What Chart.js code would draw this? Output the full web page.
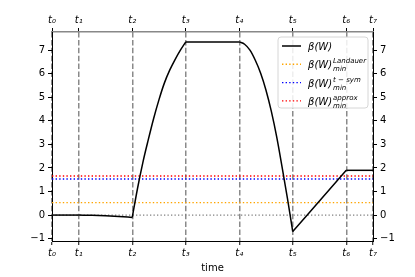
<!DOCTYPE html>
<html>
<head>
<meta charset="utf-8">
<script src="https://cdn.jsdelivr.net/npm/chart.js@4"></script>
<style>
  html, body { margin: 0; padding: 0; background: #fff; }
  #wrap { width: 415px; height: 277px; }
</style>
</head>
<body>
<div id="wrap"><canvas id="chart" width="415" height="277"></canvas></div>
<script>
// time marks
const tickPos = [0, 0.5, 1.5, 2.5, 3.5, 4.5, 5.5, 6];
const tickNames = ['t₀', 't₁', 't₂', 't₃', 't₄', 't₅', 't₆', 't₇'];
const yTicks = [-1, 0, 1, 2, 3, 4, 5, 6, 7];

// beta(W) curve
const time = [0, 0.5, 0.75, 1.0, 1.25, 1.5, 1.6, 1.7, 1.8, 1.9, 2.0, 2.1, 2.2, 2.3, 2.4, 2.5,
              3.5, 3.6, 3.7, 3.8, 3.9, 4.0, 4.1, 4.2, 4.3, 4.4, 4.5, 5.5, 6.0];
const beta = [0, 0, -0.01, -0.03, -0.06, -0.1, 1.15, 2.25, 3.2, 4.1, 4.9, 5.6, 6.15, 6.6, 7.0, 7.35,
              7.35, 7.25, 7.0, 6.57, 6.02, 5.3, 4.4, 3.32, 2.05, 0.72, -0.7, 1.9, 1.9];

// minimum levels
const levelNames = ['Landauer', 't − sym', 'approx'];
const levelValues = [0.53, 1.53, 1.66];
const levelColors = ['#ffa500', '#0000ff', '#ff0000'];

const FONT = '"DejaVu Sans", sans-serif';

function hline(v) {
  return [{x: tickPos[0], y: v}, {x: tickPos[tickPos.length - 1], y: v}];
}

const datasets = [];

// main curve, split at the t marks so corners stay sharp
const cuts = time.map((t, i) => tickPos.includes(t) ? i : -1).filter(i => i >= 0);
for (let k = 0; k < cuts.length - 1; k++) {
  const pts = [];
  for (let i = cuts[k]; i <= cuts[k + 1]; i++) pts.push({x: time[i], y: beta[i]});
  datasets.push({
    label: 'β(W)',
    data: pts,
    borderColor: '#000',
    borderWidth: 1.5,
    pointRadius: 0,
    cubicInterpolationMode: 'monotone'
  });
}

levelValues.forEach((v, i) => {
  datasets.push({
    label: levelNames[i],
    data: hline(v),
    borderColor: levelColors[i],
    borderWidth: 1.4,
    borderDash: [1.4, 2.2],
    pointRadius: 0
  });
});
// grey zero line
datasets.push({
  label: 'zero',
  data: hline(0),
  borderColor: '#808080',
  borderWidth: 1.2,
  borderDash: [1.3, 2.2],
  pointRadius: 0
});

const setTicks = vals => scale => { scale.ticks = vals.map(v => ({value: v})); };
const tLabel = v => tickNames[tickPos.indexOf(v)];
const yLabel = v => (v < 0 ? '\u2212' + Math.abs(v) : '' + v);

/* legend with sub/superscripts */
const mathLegend = {
  id: 'mathLegend',
  afterDraw(chart) {
    const ctx = chart.ctx;
    const a = chart.chartArea;
    const w = 90, h = 71;
    const x0 = a.right - 5 - w, y0 = a.top + 5;
    ctx.save();
    ctx.beginPath();
    ctx.roundRect(x0, y0, w, h, 3);
    ctx.fillStyle = 'rgba(255,255,255,0.85)';
    ctx.fill();
    ctx.strokeStyle = '#d6d6d6';
    ctx.lineWidth = 1;
    ctx.stroke();

    const rows = [{color: '#000', dash: [], sup: null}].concat(
      levelNames.map((n, i) => ({color: levelColors[i], dash: [1.4, 2.2], sup: n})));
    rows.forEach((r, i) => {
      const cy = y0 + 9 + i * 18.3;
      ctx.beginPath();
      ctx.setLineDash(r.dash);
      ctx.strokeStyle = r.color;
      ctx.lineWidth = r.dash.length ? 1.4 : 1.5;
      ctx.moveTo(x0 + 4, cy);
      ctx.lineTo(x0 + 23, cy);
      ctx.stroke();
      ctx.setLineDash([]);

      ctx.fillStyle = '#000';
      ctx.textBaseline = 'alphabetic';
      ctx.textAlign = 'left';
      ctx.font = 'italic 10px ' + FONT;
      const tx = x0 + 30;
      ctx.fillText('β(W)', tx, cy + 4);
      if (r.sup) {
        const sx = tx + ctx.measureText('β(W)').width + 1;
        ctx.font = 'italic 7px ' + FONT;
        ctx.fillText(r.sup, sx, cy - 1);
        ctx.fillText('min', sx, cy + 7);
      }
    });
    ctx.restore();
  }
};

const tickFont = {family: FONT, size: 10};

new Chart(document.getElementById('chart'), {
  type: 'line',
  data: {datasets},
  options: {
    responsive: false,
    animation: false,
    devicePixelRatio: 1,
    layout: {padding: 0},
    plugins: {legend: {display: false}, tooltip: {enabled: false}},
    scales: {
      x: {
        type: 'linear', position: 'bottom', min: 0, max: 6,
        afterBuildTicks: setTicks(tickPos),
        afterFit: s => { s.height = 36; },
        ticks: {callback: tLabel, color: '#000', font: {family: FONT, size: 10, style: 'italic'}, padding: 2, maxRotation: 0},
        grid: {color: '#8a8a8a', lineWidth: 1.5, tickLength: 4, tickColor: '#000', tickWidth: 1, tickBorderDash: []},
        border: {color: '#000', width: 1, dash: [5.5, 2.4]},
        title: {display: true, text: 'time', color: '#000', font: tickFont, padding: {top: 4, bottom: 3}}
      },
      x2: {
        type: 'linear', position: 'top', min: 0, max: 6,
        afterBuildTicks: setTicks(tickPos),
        afterFit: s => { s.height = 32; },
        ticks: {callback: tLabel, color: '#000', font: {family: FONT, size: 10, style: 'italic'}, padding: 2, maxRotation: 0},
        grid: {drawOnChartArea: false, color: '#000', tickLength: 4, lineWidth: 1},
        border: {color: '#888', width: 1.5}
      },
      y: {
        type: 'linear', position: 'left', min: -1.1, max: 7.77,
        afterBuildTicks: setTicks(yTicks),
        afterFit: s => { s.width = 52; },
        ticks: {callback: yLabel, color: '#000', font: tickFont, padding: 3},
        grid: {drawOnChartArea: false, color: '#000', tickLength: 4, lineWidth: 1},
        border: {color: '#000', width: 1}
      },
      y2: {
        type: 'linear', position: 'right', min: -1.1, max: 7.77,
        afterBuildTicks: setTicks(yTicks),
        afterFit: s => { s.width = 42; },
        ticks: {callback: yLabel, color: '#000', font: tickFont, padding: 3},
        grid: {drawOnChartArea: false, color: '#000', tickLength: 4, lineWidth: 1},
        border: {color: '#000', width: 1}
      }
    }
  },
  plugins: [mathLegend]
});
</script>
</body>
</html>
